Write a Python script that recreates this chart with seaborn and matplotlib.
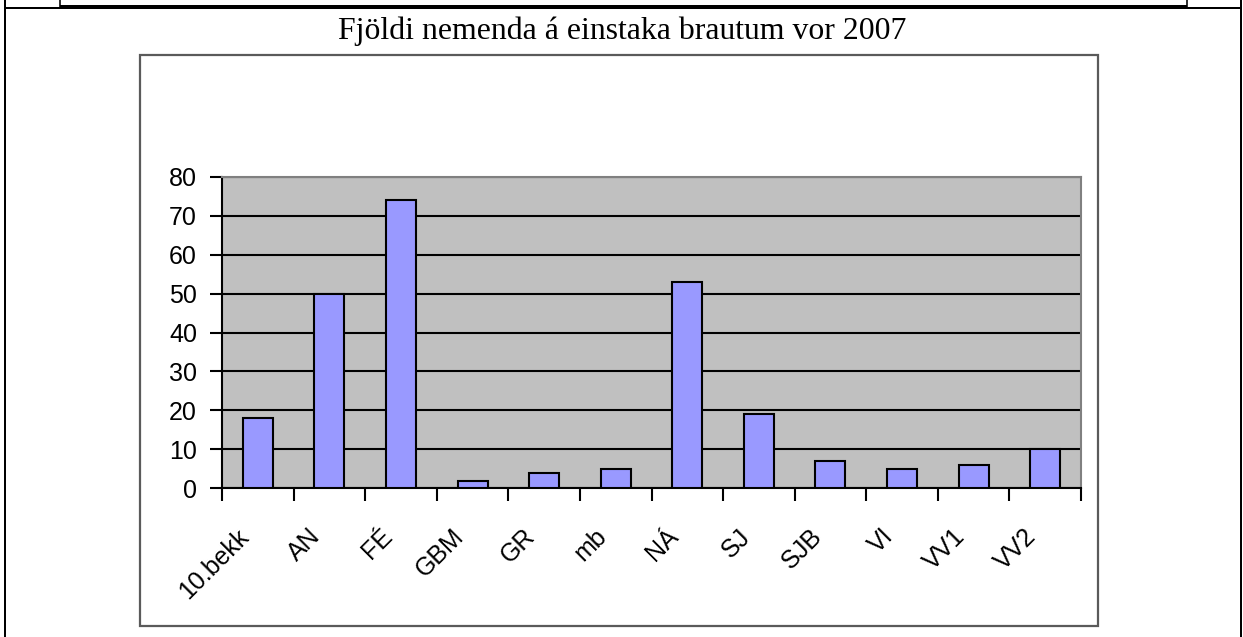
import matplotlib
matplotlib.use("Agg")
import matplotlib.pyplot as plt
import seaborn as sns
import pandas as pd
import numpy as np
from matplotlib.lines import Line2D
from matplotlib.patches import Rectangle
from matplotlib.transforms import ScaledTranslation

# ---- data ----
categories = ["10.bekk", "AN", "FÉ", "GBM", "GR", "mb", "NÁ", "SJ", "SJB", "VI", "VV1", "VV2"]
counts = [18, 50, 74, 2, 4, 5, 53, 19, 7, 5, 6, 10]
y_ticks = [0, 10, 20, 30, 40, 50, 60, 70, 80]
title = "Fjöldi nemenda á einstaka brautum vor 2007"

W, H = 1243, 637
fig = plt.figure(figsize=(W / 100, H / 100), dpi=100)
fig.patch.set_facecolor("white")


def px_line(x0, y0, x1, y1, width, color="black"):
    fig.add_artist(Line2D([x0 / W, x1 / W], [1 - y0 / H, 1 - y1 / H],
                          transform=fig.transFigure, color=color,
                          lw=width * 0.72, solid_capstyle="butt"))


# table / page decorations
px_line(5, 0, 5, H, 2)
px_line(1241.3, 0, 1241.3, H, 2)
px_line(5, 7.7, 1242, 7.7, 2)
px_line(60, 6.7, 1187, 6.7, 4)
px_line(60, 0, 60, 7, 1.6)
px_line(1187, 0, 1187, 7, 1.6)

# chart frame
fig.add_artist(Rectangle((140 / W, 1 - 626 / H), 958 / W, 571 / H,
                         transform=fig.transFigure, fill=False,
                         edgecolor="#5a5a5a", lw=1.6))

# title
fig.text(622 / W, 1 - 39.3 / H, title, ha="center", va="baseline",
         fontfamily="Liberation Serif", fontsize=22.9, color="black")

# plot area
ax = fig.add_axes([222 / W, 1 - 488.3 / H, (1081 - 222) / W, (488.3 - 176.7) / H])
df = pd.DataFrame({"cat": categories, "n": counts})
sns.barplot(data=df, x="cat", y="n", ax=ax, color="#9999FF", saturation=1,
            width=0.42, edgecolor="black", linewidth=1.5, zorder=3, errorbar=None)

ax.set_facecolor("#C0C0C0")
ax.set_ylim(0, 80)
ax.set_xlim(-0.5, len(categories) - 0.5)
ax.set_yticks(y_ticks)
ax.set_xlabel("")
ax.set_ylabel("")
ax.set_axisbelow(True)
ax.yaxis.grid(True, color="black", lw=1.5)
ax.xaxis.grid(False)

for side in ("left", "bottom"):
    ax.spines[side].set_color("black")
    ax.spines[side].set_linewidth(1.5)
for side in ("top", "right"):
    ax.spines[side].set_color("#808080")
    ax.spines[side].set_linewidth(1.5)

ax.tick_params(axis="y", which="major", direction="out", length=9, width=1.5,
               color="black", pad=9.0, labelsize=18)
for lab in ax.get_yticklabels():
    lab.set_fontfamily("Liberation Sans")

ax.set_xticks(np.arange(len(categories)))
ax.set_xticklabels(categories)
ax.set_xticks(np.arange(-0.5, len(categories)), minor=True)
ax.tick_params(axis="x", which="major", length=0, pad=26, labelsize=18)
ax.tick_params(axis="x", which="minor", direction="out", length=9, width=1.5, color="black")

offset = ScaledTranslation(-21 / 100, 0, fig.dpi_scale_trans)
for lab in ax.get_xticklabels():
    lab.set_fontfamily("Liberation Sans")
    lab.set_rotation(45)
    lab.set_ha("right")
    lab.set_va("top")
    lab.set_rotation_mode("anchor")
    lab.set_transform(lab.get_transform() + offset)

fig.savefig("out.png", dpi=100, facecolor="white")
